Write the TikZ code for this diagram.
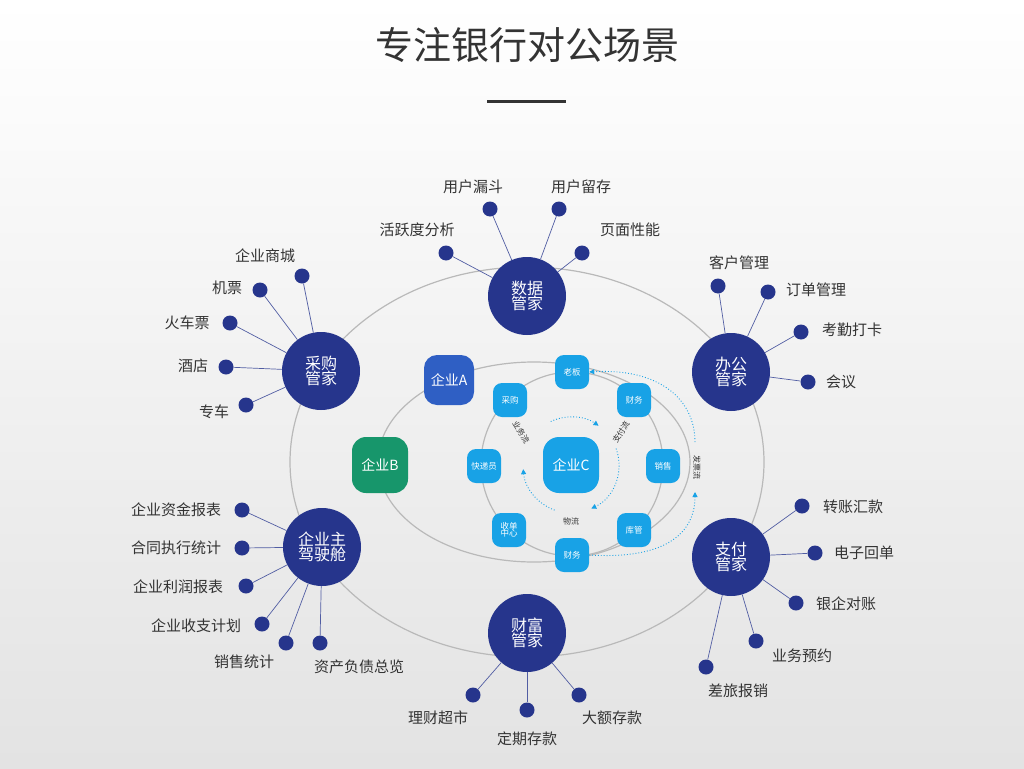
\documentclass[tikz,border=0pt]{standalone}
\usepackage{fontspec}
\setmainfont{Noto Sans CJK SC}
\usetikzlibrary{arrows.meta}
\definecolor{navy}{HTML}{26358C}
\definecolor{sky}{HTML}{18A2E6}
\definecolor{txt}{HTML}{333333}
\definecolor{qablue}{HTML}{2F5FC4}
\definecolor{qbgreen}{HTML}{17966B}
\tikzset{
 hub/.style={circle,fill=navy,minimum size=78pt,inner sep=0pt,text=white,font=\fontsize{16}{18}\selectfont,align=center},
 dot/.style={circle,fill=navy,minimum size=15pt,inner sep=0pt},
 lab/.style={text=txt,font=\fontsize{15}{17}\selectfont},
 spoke/.style={draw=navy!80,line width=0.7pt},
 small/.style={rounded corners=9pt,fill=sky,minimum size=34pt,inner sep=0pt,text=white,font=\fontsize{8.5}{9.5}\selectfont,align=center},
 ring/.style={draw=gray!55,line width=1.2pt},
 flow/.style={draw=sky,dotted,line width=0.9pt,-{Triangle[length=5pt,width=5pt]}},
 flab/.style={text=txt,font=\fontsize{8}{9}\selectfont,fill=none}
}
\begin{document}
\begin{tikzpicture}[x=1pt,y=-1pt]
\shade[top color=white,bottom color=gray!22] (0,0) rectangle (1024,768);
\useasboundingbox (0,0) rectangle (1024,768);
\node[text=txt,font=\fontsize{38}{42}\selectfont] (title) at (527,45) {专注银行对公场景};
\draw[line width=3pt,draw=txt] (487,101) -- (566,101);
% rings
\draw[ring] (527,462) ellipse [x radius=237,y radius=195];
\draw[ring] (534,462) ellipse [x radius=156,y radius=100];
\draw[ring] (572,464) ellipse [x radius=91,y radius=92];
% hubs
\node[hub] (sj) at (527,296) {数据\\[-3pt]管家};
\node[hub] (cg) at (321,371) {采购\\[-3pt]管家};
\node[hub] (bg) at (731,372) {办公\\[-3pt]管家};
\node[hub] (jsc) at (322,547) {企业主\\[-3pt]驾驶舱};
\node[hub] (zf) at (731,557) {支付\\[-3pt]管家};
\node[hub] (cf) at (527,633) {财富\\[-3pt]管家};
% satellites
\foreach \h/\dx/\dy/\lx/\ly/\t [count=\i] in {
 sj/490/209/473/187/用户漏斗, sj/559/209/581/187/用户留存, sj/446/253/417/230/活跃度分析, sj/582/253/630/230/页面性能,
 cg/302/276/265/256/企业商城, cg/260/290/227/288/机票, cg/230/323/187/323/火车票, cg/226/367/193/366/酒店, cg/246/405/214/412/专车,
 bg/718/286/739/263/客户管理, bg/768/292/816/290/订单管理, bg/801/332/852/330/考勤打卡, bg/808/382/841/382/会议,
 jsc/242/510/176/510/企业资金报表, jsc/242/548/176/548/合同执行统计, jsc/246/586/178/587/企业利润报表, jsc/262/624/196/626/企业收支计划, jsc/286/643/244/662/销售统计, jsc/320/643/359/667/资产负债总览,
 zf/802/506/853/507/转账汇款, zf/815/553/864/553/电子回单, zf/796/603/846/604/银企对账, zf/756/641/802/656/业务预约, zf/706/667/738/691/差旅报销,
 cf/473/695/438/718/理财超市, cf/527/710/527/739/定期存款, cf/579/695/612/718/大额存款}
{
 \node[dot] (d\i) at (\dx,\dy) {};
 \node[lab] (l\i) at (\lx,\ly) {\t};
 \draw[spoke] (\h) -- (d\i);
}
% companies
\node[rounded corners=13pt,fill=qablue,minimum size=50pt,text=white,font=\fontsize{14}{16}\selectfont] (qa) at (449,380) {企业A};
\node[rounded corners=14pt,fill=qbgreen,minimum size=56pt,text=white,font=\fontsize{14}{16}\selectfont] (qb) at (380,465) {企业B};
\node[rounded corners=16pt,fill=sky,minimum size=56pt,text=white,font=\fontsize{14}{16}\selectfont] (qc) at (571,465) {企业C};
% small nodes
\node[small] (lb) at (572,372) {老板};
\node[small] (cw1) at (634,400) {财务};
\node[small] (xs) at (663,466) {销售};
\node[small] (kg) at (634,530) {库管};
\node[small] (cw2) at (572,555) {财务};
\node[small] (sd) at (509,530) {收单\\[-2pt]中心};
\node[small] (kd) at (484,466) {快递员};
\node[small] (cgs) at (510,400) {采购};
% inner flows
\draw[flow] (571,465) ++(-250:48) arc[start angle=-250,end angle=-185,radius=48];
\draw[flow] (571,465) ++(-115:48) arc[start angle=-115,end angle=-55,radius=48];
\draw[flow] (571,465) ++(-20:48) arc[start angle=-20,end angle=65,radius=48];
\node[flab,rotate=-58] (f1) at (521,432) {业务流};
\node[flab,rotate=58] (f2) at (621,432) {支付流};
\node[flab] (f3) at (571,521) {物流};
% outer flows
\coordinate (o1) at (695,492);
\coordinate (o2) at (695,442);
\draw[flow] (cw2.east) .. controls (670,560) and (695,530) .. (o1);
\draw[flow] (o2) .. controls (695,400) and (660,368) .. (lb.east);
\node[flab,rotate=-90] (f4) at (697,467) {发票流};
\end{tikzpicture}
\end{document}
